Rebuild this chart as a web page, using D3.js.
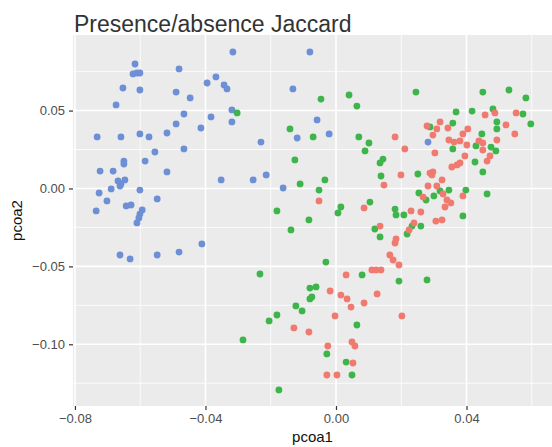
<!DOCTYPE html>
<html>
<head>
<meta charset="utf-8">
<script src="https://cdn.jsdelivr.net/npm/d3@7"></script>
<style>
  html, body { margin: 0; padding: 0; background: #fff; }
  svg { display: block; font-family: "Liberation Sans", Arial, sans-serif; }
</style>
</head>
<body>
<svg id="chart" width="552" height="447"></svg>
<script>
// PCoA coordinates (pcoa1, pcoa2) for the three sample groups
const groupBlue = [
  [-0.0616,0.0799],[-0.0622,0.0735],[-0.0610,0.0741],[-0.0601,0.0741],[-0.0481,0.0767],
  [-0.0653,0.0645],[-0.0601,0.0632],[-0.0490,0.0619],[-0.0447,0.0581],[-0.0368,0.0716],
  [-0.0395,0.0677],[-0.0343,0.0664],[-0.0334,0.0639],[-0.0674,0.0536],[-0.0466,0.0478],
  [-0.0383,0.0459],[-0.0490,0.0414],[-0.0414,0.0388],[-0.0732,0.0331],[-0.0659,0.0331],
  [-0.0601,0.0350],[-0.0573,0.0331],[-0.0518,0.0356],[-0.0555,0.0234],[-0.0466,0.0254],
  [-0.0650,0.0176],[-0.0650,0.0157],[-0.0585,0.0176],[-0.0316,0.0876],[-0.0080,0.0876],
  [-0.0132,0.0639],[-0.0319,0.0504],[-0.0319,0.0427],[-0.0058,0.0440],[-0.0119,0.0324],
  [-0.0021,0.0350],[-0.0230,0.0298],[-0.0723,0.0112],[-0.0683,0.0112],[-0.0518,0.0106],
  [-0.0352,0.0055],[-0.0668,0.0048],[-0.0659,0.0029],[-0.0662,0.0016],[-0.0647,0.0055],
  [-0.0689,-0.0003],[-0.0726,-0.0029],[-0.0601,-0.0010],[-0.0548,-0.0067],[-0.0702,-0.0080],
  [-0.0735,-0.0144],[-0.0643,-0.0112],[-0.0628,-0.0106],[-0.0594,-0.0138],[-0.0601,-0.0164],
  [-0.0604,-0.0189],[-0.0610,-0.0221],[-0.0411,-0.0356],[-0.0481,-0.0408],[-0.0548,-0.0427],
  [-0.0662,-0.0427],[-0.0631,-0.0452],[-0.0254,0.0055],[-0.0214,0.0087],[-0.0162,0.0003],
  [0.0282,0.0298]
];

const groupRed = [
  [0.0457,0.0472],[0.0487,0.0485],[0.0552,0.0485],[0.0521,0.0408],[0.0548,0.0350],
  [0.0279,0.0401],[0.0319,0.0427],[0.0309,0.0382],[0.0343,0.0388],[0.0297,0.0343],
  [0.0404,0.0382],[0.0389,0.0350],[0.0346,0.0311],[0.0362,0.0298],[0.0380,0.0305],
  [0.0438,0.0305],[0.0450,0.0292],[0.0493,0.0311],[0.0401,0.0279],[0.0450,0.0247],
  [0.0181,0.0331],[0.0211,0.0254],[0.0303,0.0228],[0.0395,0.0209],[0.0472,0.0209],
  [0.0463,0.0176],[0.0380,0.0164],[0.0371,0.0151],[0.0199,0.0087],[0.0288,0.0099],
  [0.0294,0.0087],[0.0297,0.0106],[0.0355,0.0138],[0.0147,0.0022],[0.0325,0.0055],
  [0.0282,0.0016],[0.0309,0.0016],[0.0389,-0.0048],[0.0267,-0.0055],[0.0328,-0.0035],
  [0.0340,-0.0074],[0.0352,-0.0093],[0.0334,-0.0119],[0.0306,-0.0209],[0.0325,-0.0202],
  [0.0230,-0.0144],[0.0260,-0.0151],[0.0239,-0.0221],[0.0224,-0.0266],[0.0135,-0.0241],
  [0.0184,-0.0324],[0.0181,-0.0350],[0.0165,-0.0427],[0.0175,-0.0459],[0.0193,-0.0491],
  [0.0138,-0.0523],[0.0202,-0.0818],[-0.0052,-0.0080],[0.0086,-0.0125],[0.0031,-0.0555],
  [0.0110,-0.0523],[0.0123,-0.0523],[-0.0018,-0.0658],[0.0015,-0.0684],[0.0034,-0.0709],
  [0.0046,-0.0761],[0.0086,-0.0735],[0.0126,-0.0677],[-0.0003,-0.0818],[-0.0129,-0.0895],
  [-0.0083,-0.0921],[0.0049,-0.0985],[0.0058,-0.1011],[-0.0025,-0.1011],[0.0052,-0.1120],
  [-0.0028,-0.1197],[0.0003,-0.1197]
];

const groupGreen = [
  [-0.0046,0.0574],[0.0040,0.0600],[0.0064,0.0529],[-0.0303,0.0485],[-0.0141,0.0382],
  [-0.0070,0.0331],[0.0070,0.0331],[0.0101,0.0292],[0.0089,0.0241],[-0.0126,0.0183],
  [0.0135,0.0164],[0.0144,0.0189],[0.0245,0.0619],[0.0450,0.0619],[0.0530,0.0632],
  [0.0582,0.0581],[0.0368,0.0491],[0.0417,0.0497],[0.0481,0.0510],[0.0573,0.0478],
  [0.0597,0.0414],[0.0493,0.0427],[0.0493,0.0382],[0.0288,0.0395],[0.0358,0.0420],
  [0.0447,0.0350],[0.0429,0.0273],[0.0475,0.0266],[0.0490,0.0241],[0.0358,0.0254],
  [0.0426,0.0170],[0.0138,0.0080],[0.0251,0.0093],[0.0450,0.0106],[0.0463,-0.0035],
  [0.0319,-0.0016],[0.0346,-0.0010],[0.0398,-0.0010],[0.0254,-0.0029],[0.0276,-0.0074],
  [0.0300,-0.0048],[0.0389,-0.0176],[0.0181,-0.0132],[0.0184,-0.0170],[0.0208,-0.0170],
  [0.0233,-0.0241],[0.0260,-0.0241],[0.0218,-0.0292],[0.0135,-0.0311],[0.0193,-0.0594],
  [0.0279,-0.0587],[-0.0110,0.0029],[-0.0034,0.0055],[-0.0052,-0.0010],[-0.0181,-0.0144],
  [-0.0083,-0.0202],[-0.0138,-0.0266],[0.0015,-0.0119],[0.0006,-0.0157],[0.0104,-0.0087],
  [0.0119,-0.0260],[-0.0031,-0.0472],[-0.0233,-0.0549],[0.0080,-0.0555],[-0.0080,-0.0639],
  [-0.0061,-0.0632],[-0.0080,-0.0709],[-0.0074,-0.0696],[-0.0123,-0.0754],[-0.0104,-0.0786],
  [-0.0181,-0.0812],[-0.0205,-0.0850],[-0.0285,-0.0972],[-0.0175,-0.1293],[0.0064,-0.0876],
  [-0.0028,-0.1062],[0.0031,-0.1114],[0.0049,-0.1197]
];

const xTicks = [-0.08, -0.04, 0.00, 0.04];
const yTicks = [-0.10, -0.05, 0.00, 0.05];
const xMinor = [-0.06, -0.02, 0.02, 0.06];
const yMinor = [-0.125, -0.075, -0.025, 0.025, 0.075];

const titleText = "Presence/absence Jaccard";
const xTitle = "pcoa1";
const yTitle = "pcoa2";

const series = [
  { pts: groupBlue,  color: "#6D8FD6" },
  { pts: groupGreen, color: "#3DB54B" },
  { pts: groupRed,   color: "#F07A6F" }
];

const svg = d3.select("#chart");
const W = 552, H = 447;
const panel = { left: 73, right: 552, top: 35, bottom: 406 };

const x = d3.scaleLinear().domain([-0.0806, 0.0662]).range([panel.left, panel.right]);
const y = d3.scaleLinear().domain([-0.1396, 0.0985]).range([panel.bottom, panel.top]);

// grey panel
svg.append("rect")
  .attr("x", panel.left).attr("y", panel.top)
  .attr("width", panel.right - panel.left)
  .attr("height", panel.bottom - panel.top)
  .attr("fill", "#EBEBEB");

const grid = svg.append("g");
// minor grid
grid.selectAll(".vminor").data(xMinor).join("line")
  .attr("x1", d => x(d)).attr("x2", d => x(d))
  .attr("y1", panel.top).attr("y2", panel.bottom)
  .attr("stroke", "#fff").attr("stroke-width", 0.8);
grid.selectAll(".hminor").data(yMinor.filter(d => y(d) > panel.top && y(d) < panel.bottom)).join("line")
  .attr("x1", panel.left).attr("x2", panel.right)
  .attr("y1", d => y(d)).attr("y2", d => y(d))
  .attr("stroke", "#fff").attr("stroke-width", 0.8);
// major grid
grid.selectAll(".vmajor").data(xTicks).join("line")
  .attr("x1", d => x(d)).attr("x2", d => x(d))
  .attr("y1", panel.top).attr("y2", panel.bottom)
  .attr("stroke", "#fff").attr("stroke-width", 1.6);
grid.selectAll(".hmajor").data(yTicks).join("line")
  .attr("x1", panel.left).attr("x2", panel.right)
  .attr("y1", d => y(d)).attr("y2", d => y(d))
  .attr("stroke", "#fff").attr("stroke-width", 1.6);

// points
series.forEach(s => {
  svg.append("g").selectAll("circle").data(s.pts).join("circle")
    .attr("cx", d => x(d[0]))
    .attr("cy", d => y(d[1]))
    .attr("r", 3.4)
    .attr("fill", s.color);
});

const fmt = d => d3.format(".2f")(d).replace("-", "\u2212");

// axes
const xAxis = svg.append("g")
  .attr("transform", `translate(0,${panel.bottom})`)
  .call(d3.axisBottom(x).tickValues(xTicks).tickFormat(fmt).tickSize(4).tickPadding(4));
const yAxis = svg.append("g")
  .attr("transform", `translate(${panel.left},0)`)
  .call(d3.axisLeft(y).tickValues(yTicks).tickFormat(fmt).tickSize(4).tickPadding(4));
[xAxis, yAxis].forEach(a => {
  a.select(".domain").remove();
  a.selectAll(".tick line").attr("stroke", "#333").attr("stroke-width", 1.2);
  a.selectAll(".tick text").attr("fill", "#4D4D4D")
    .style("font-size", "13px").style("font-family", "'Liberation Sans', Arial, sans-serif");
});

// titles
svg.append("text")
  .attr("x", panel.left + 1).attr("y", 32)
  .attr("fill", "#333")
  .style("font-size", "23px")
  .text(titleText);

svg.append("text")
  .attr("x", (panel.left + panel.right) / 2).attr("y", 442)
  .attr("text-anchor", "middle")
  .attr("fill", "#111")
  .style("font-size", "15px")
  .text(xTitle);

svg.append("text")
  .attr("transform", `translate(22,${(panel.top + panel.bottom) / 2}) rotate(-90)`)
  .attr("text-anchor", "middle")
  .attr("fill", "#111")
  .style("font-size", "15px")
  .text(yTitle);
</script>
</body>
</html>
